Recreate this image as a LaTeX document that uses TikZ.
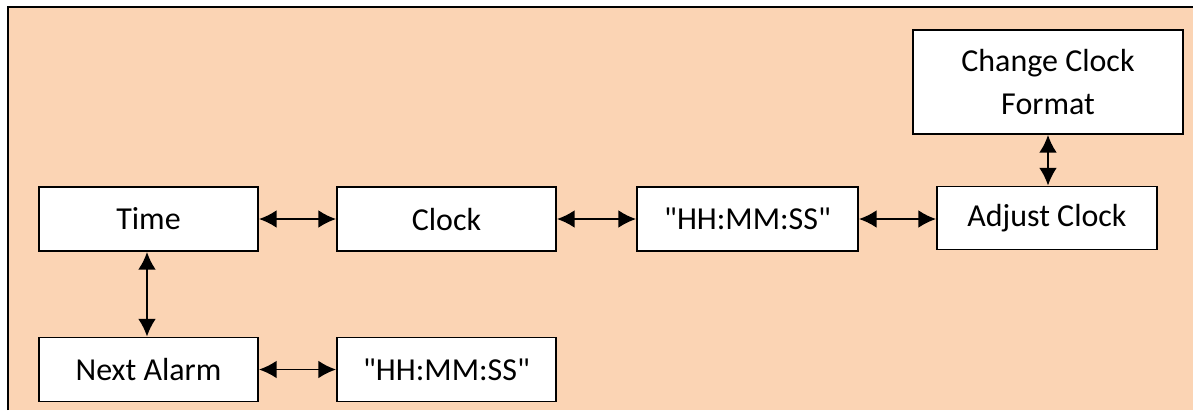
\documentclass[tikz,border=0pt]{standalone}
\usepackage{fontspec}
\setmainfont{Carlito}[Ligatures=TeXOff]
\usetikzlibrary{arrows.meta,positioning}
\definecolor{PeachFill}{HTML}{FBD4B4}

\begin{document}
\begin{tikzpicture}[
  x=0.02cm, y=-0.02cm,
  block/.style={draw=black, fill=white, line width=1.1pt, minimum width=4.38cm,
    minimum height=1.28cm, align=center, inner sep=2pt,
    font=\fontsize{18.2}{24.5}\selectfont},
  link/.style={{Latex[length=10pt,width=10pt]}-{Latex[length=10pt,width=10pt]}, line width=1.1pt, draw=black}
]
\useasboundingbox (0,0) rectangle (1193,410);
\fill[PeachFill] (8,7) rectangle (1193,410);
\draw[line width=1.1pt] (8,410) -- (8,7) -- (1193,7);
% top row
\node[block] (time) at (148.5,219) {Time};
\node[block] (clock) at (446.5,219) {Clock};
\node[block, minimum width=4.42cm] (hms) at (747.5,219) {"HH:MM:SS"};
\node[block, minimum width=4.4cm, minimum height=1.26cm] (adjust) at (1047,218) {Adjust Clock};
\node[block, minimum width=5.4cm, minimum height=2.08cm] (format) at (1048,82) {Change Clock\\Format};
% bottom row
\node[block] (alarm) at (148.5,369.5) {Next Alarm};
\node[block] (alarmhms) at (446.5,369.5) {"HH:MM:SS"};
\draw[link] (time) -- (clock);
\draw[link] (clock) -- (hms);
\draw[link] (hms.east) -- (hms.east -| adjust.west);
\draw[link] (adjust.north -| format.south) -- (format.south);
\draw[link] (time.south -| 147,0) -- (alarm.north -| 147,0);
\draw[link] (alarm) -- (alarmhms);
\end{tikzpicture}
\end{document}
